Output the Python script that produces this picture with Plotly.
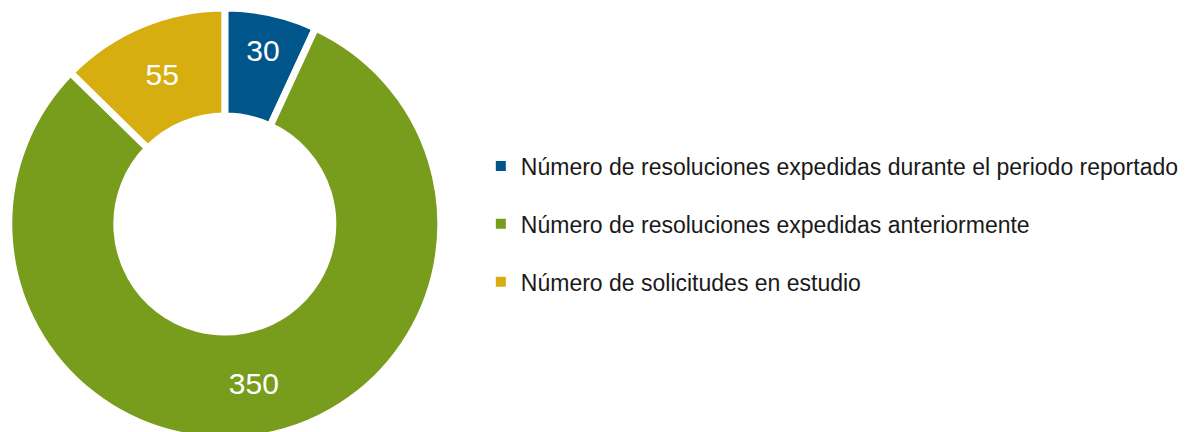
import plotly.graph_objects as go

categories = [
    "Número de resoluciones expedidas durante el periodo reportado",
    "Número de resoluciones expedidas anteriormente",
    "Número de solicitudes en estudio",
]
values = [30, 350, 55]
colors = ["#00558a", "#789c1c", "#d6ae10"]

fig = go.Figure()
fig.add_trace(go.Pie(
    labels=categories,
    values=values,
    sort=False,
    direction="clockwise",
    rotation=0,
    hole=0.5,
    marker=dict(colors=colors, line=dict(color="white", width=7)),
    textinfo="value",
    textposition="inside",
    insidetextorientation="horizontal",
    textfont=dict(family="Liberation Sans, Arial, sans-serif", size=30, color="white"),
    domain=dict(x=[0, 0.365], y=[0, 1]),
    showlegend=False,
    hoverinfo="label+value",
))

for i, (cat, col) in enumerate(zip(categories, colors)):
    fig.add_trace(go.Scatter(
        x=[None], y=[None], mode="markers", name=cat,
        marker=dict(symbol="square", size=10, color=col),
        legendgroup=f"g{i}", showlegend=True,
    ))

fig.update_layout(
    width=1188, height=432,
    margin=dict(l=0, r=0, t=0, b=0),
    paper_bgcolor="white", plot_bgcolor="white",
    xaxis=dict(visible=False), yaxis=dict(visible=False),
    legend=dict(
        x=0.398, y=0.5, xanchor="left", yanchor="middle",
        font=dict(family="Liberation Sans, Arial, sans-serif", size=23, color="#1a1a1a"),
        tracegroupgap=25,
        itemsizing="trace",
    ),
)

fig.write_html("out.html")
